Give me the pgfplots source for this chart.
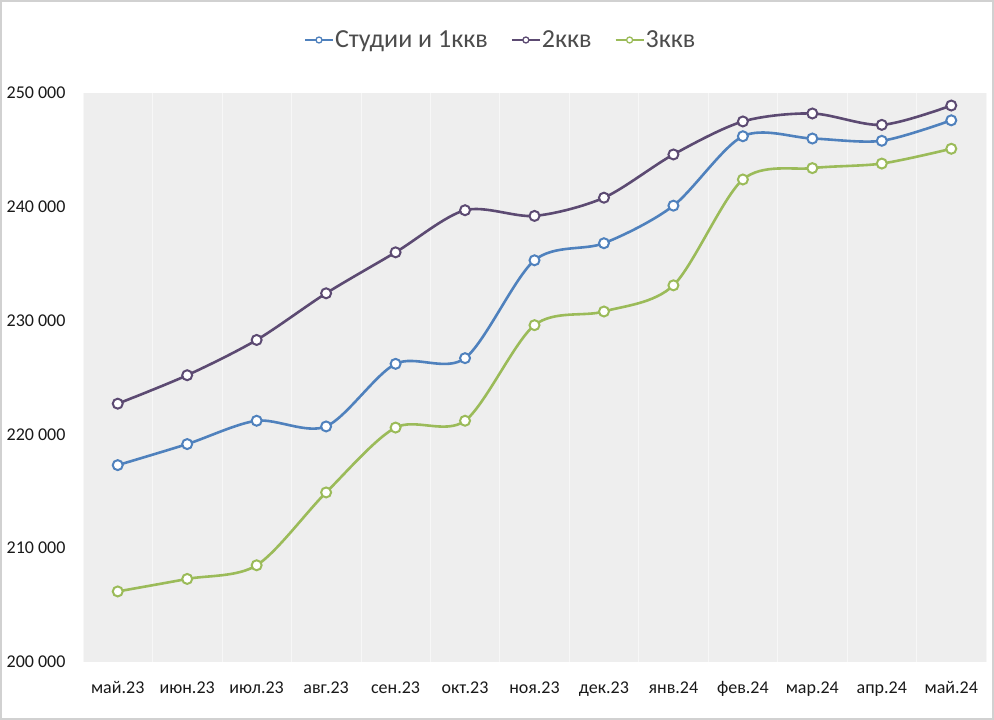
\documentclass[border=0pt]{standalone}
\usepackage{pgfplots}
\pgfplotsset{compat=1.18}
\usepackage{fontspec}
\setmainfont{Carlito}

\definecolor{cblue}{HTML}{4F81BD}
\definecolor{cpurple}{HTML}{5C4A72}
\definecolor{cgreen}{HTML}{9BBB59}
\definecolor{bgfill}{HTML}{EEEEEE}

\pgfplotstableread{
x studii kv2 kv3
0  217300 222700 206200
1  219150 225200 207300
2  221200 228300 208500
3  220700 232400 214900
4  226200 236000 220600
5  226700 239700 221200
6  235300 239200 229600
7  236800 240800 230800
8  240100 244600 233100
9  246200 247500 242400
10 246000 248200 243400
11 245800 247200 243800
12 247600 248900 245100
}\datatable

\begin{document}
\begin{tikzpicture}[x=1pt,y=1pt]
\path[use as bounding box] (0,0) rectangle (994,720);
\fill[white] (0,0) rectangle (994,720);
\draw[black!18, line width=2pt] (1,1) rectangle (993,719);
\begin{axis}[
    at={(83pt,58pt)}, anchor=south west,
    scale only axis,
    width=903pt, height=569pt,
    xmin=-0.5, xmax=12.5,
    ymin=200000, ymax=250000,
    scaled y ticks=false,
    xtick={0,...,12},
    xticklabels={май.23,июн.23,июл.23,авг.23,сен.23,окт.23,ноя.23,дек.23,янв.24,фев.24,мар.24,апр.24,май.24},
    ytick={200000,210000,220000,230000,240000,250000},
    yticklabels={200 000,210 000,220 000,230 000,240 000,250 000},
    minor xtick={-0.5,0.5,...,12.5},
    xminorgrids=true,
    minor grid style={white!55!bgfill, line width=0.6pt},
    axis background/.style={fill=bgfill},
    axis line style={draw=none},
    major tick length=0pt, minor tick length=0pt,
    tick label style={font=\fontsize{18}{20}\selectfont, text=black!90},
    xticklabel style={yshift=-16pt},
    yticklabel style={xshift=-14pt},
    legend columns=3,
    legend style={draw=none, fill=none, at={(0.462,1)}, anchor=center, yshift=53pt,
        font=\fontsize{26}{28}\selectfont, text=black!70,
        nodes={inner xsep=1pt},
        /tikz/every even column/.append style={column sep=22pt}},
    legend image code/.code={\draw[#1, line width=2pt, mark size=3pt,
        mark options={fill=white, line width=1.3pt},
        mark repeat=2, mark phase=2] plot coordinates {(0pt,0pt) (14pt,0pt) (28pt,0pt)};},
    every axis plot/.append style={line width=2.6pt, smooth, tension=0.5,
        mark=*, mark size=5pt, mark options={fill=white, line width=2pt}},
]
\addplot[cblue] table[x=x, y=studii] {\datatable};
\addlegendentry{Студии и 1ккв}
\addplot[cpurple] table[x=x, y=kv2] {\datatable};
\addlegendentry{2ккв}
\addplot[cgreen] table[x=x, y=kv3] {\datatable};
\addlegendentry{3ккв}
\end{axis}
\end{tikzpicture}
\end{document}
